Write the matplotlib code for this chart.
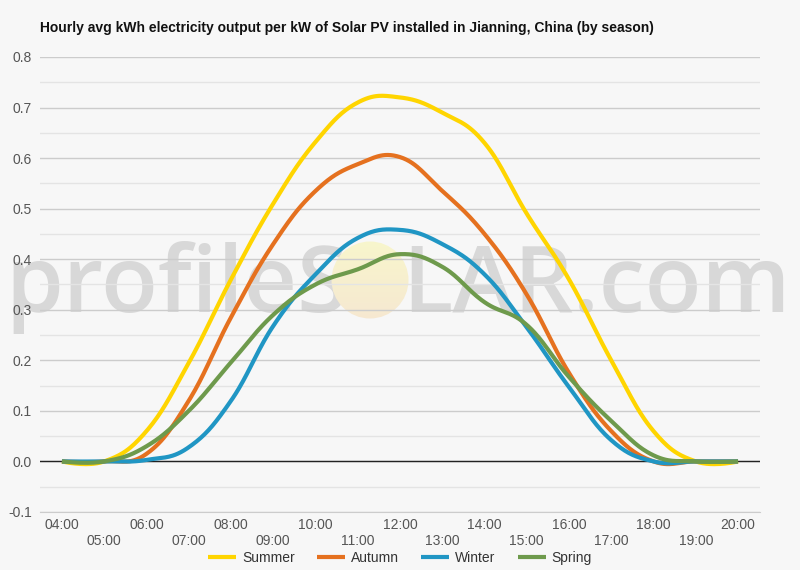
import matplotlib
matplotlib.use("Agg")
import matplotlib.pyplot as plt
import numpy as np
from matplotlib.patches import Circle
from matplotlib.ticker import MultipleLocator, FixedLocator

hours = list(range(4, 21))
hour_labels = [f"{h:02d}:00" for h in hours]

summer = [0.0, 0.0, 0.06, 0.195, 0.36, 0.51, 0.632, 0.71, 0.72, 0.69, 0.63, 0.49, 0.36, 0.2, 0.06, 0.0, 0.0]
autumn = [0.0, 0.0, 0.015, 0.12, 0.285, 0.43, 0.535, 0.588, 0.602, 0.535, 0.45, 0.33, 0.175, 0.06, 0.0, 0.0, 0.0]
winter = [0.0, 0.0, 0.003, 0.028, 0.12, 0.268, 0.37, 0.442, 0.458, 0.43, 0.37, 0.265, 0.147, 0.042, 0.0, 0.0, 0.0]
spring = [0.0, 0.0, 0.03, 0.10, 0.196, 0.29, 0.35, 0.38, 0.41, 0.385, 0.315, 0.27, 0.167, 0.08, 0.012, 0.0, 0.0]

series = [
    ("Summer", summer, "#ffd500"),
    ("Autumn", autumn, "#e5711f"),
    ("Winter", winter, "#2096c4"),
    ("Spring", spring, "#6e9a4c"),
]

BG = "#f7f7f7"


def spline(xs, ys, n=30, smoothing=1.5):
    """bezier spline through the points, control points like highcharts' spline."""
    xs = np.asarray(xs, float)
    ys = np.asarray(ys, float)
    denom = smoothing + 1
    m = len(xs)
    left = [(xs[i], ys[i]) for i in range(m)]
    right = [(xs[i], ys[i]) for i in range(m)]
    for i in range(1, m - 1):
        lx = (smoothing * xs[i] + xs[i - 1]) / denom
        ly = (smoothing * ys[i] + ys[i - 1]) / denom
        rx = (smoothing * xs[i] + xs[i + 1]) / denom
        ry = (smoothing * ys[i] + ys[i + 1]) / denom
        corr = (ry - ly) * (rx - xs[i]) / (rx - lx) + ys[i] - ry
        left[i] = (lx, ly + corr)
        right[i] = (rx, ry + corr)
    t = np.linspace(0, 1, n, endpoint=False)
    bx, by = [], []
    for i in range(m - 1):
        p0 = (xs[i], ys[i])
        p1 = right[i]
        p2 = left[i + 1]
        p3 = (xs[i + 1], ys[i + 1])
        for k, out in ((0, bx), (1, by)):
            out.extend((1 - t) ** 3 * p0[k] + 3 * (1 - t) ** 2 * t * p1[k]
                       + 3 * (1 - t) * t ** 2 * p2[k] + t ** 3 * p3[k])
    bx.append(xs[-1])
    by.append(ys[-1])
    return np.array(bx), np.array(by)


plt.rcParams["font.family"] = ["Liberation Sans", "DejaVu Sans"]

fig = plt.figure(figsize=(8, 5.7), dpi=100, facecolor=BG)
ax = fig.add_axes([0.05, 0.1018, 0.90, 0.7982], facecolor=BG)
ax.set_axisbelow(True)

ax.set_xlim(3.48, 20.52)
ax.set_ylim(-0.1, 0.8)

# grid
ax.yaxis.set_major_locator(MultipleLocator(0.1))
ax.yaxis.set_minor_locator(MultipleLocator(0.05))
ax.grid(True, axis="y", which="major", color="#cccccc", lw=1)
ax.grid(True, axis="y", which="minor", color="#e4e4e4", lw=1)
ax.axhline(0, color="#222222", lw=1, zorder=2)
for s in ax.spines.values():
    s.set_visible(False)
ax.spines["bottom"].set_visible(True)
ax.spines["bottom"].set_color("#cccccc")

ax.set_yticks(np.arange(-0.1, 0.81, 0.1))
ax.set_yticklabels([f"{v:.1f}" for v in np.arange(-0.1, 0.81, 0.1)])
ax.tick_params(axis="y", which="both", length=0, labelsize=10, labelcolor="#555555", pad=6)

# x ticks: even hours on first row, odd hours below
ax.xaxis.set_major_locator(FixedLocator(hours[::2]))
ax.xaxis.set_minor_locator(FixedLocator(hours[1::2]))
ax.set_xticklabels(hour_labels[::2])
ax.set_xticklabels(hour_labels[1::2], minor=True)
ax.tick_params(axis="x", which="major", length=0, labelsize=10, labelcolor="#555555", pad=4)
ax.tick_params(axis="x", which="minor", length=0, labelsize=10, labelcolor="#555555", pad=16)

# watermark (under the grid)
wm = dict(transform=fig.transFigure, fontsize=67, family=["Open Sans", "DejaVu Sans"],
          fontweight="semibold", color="#d8d8d8", va="baseline", zorder=0.2, clip_on=False)
ax.text(5 / 800, 1 - 312 / 570, "profileS", ha="left", **wm)
ax.text(402 / 800, 1 - 312 / 570, "LAR.com", ha="left", **wm)

# sun with a soft gradient
sun = Circle((3.70, (570 - 280) / 100), 0.385, transform=fig.dpi_scale_trans)
inv = ax.transData.inverted()
(x0, y0) = inv.transform((330, 570 - 320))
(x1, y1) = inv.transform((410, 570 - 240))
grad = np.linspace(0, 1, 64)[:, None]
c_top = np.array([0.972, 0.965, 0.80])
c_bot = np.array([0.965, 0.91, 0.82])
img = c_top * (1 - grad[..., None]) + c_bot * grad[..., None]
img = np.repeat(img, 4, axis=1)
im = ax.imshow(img, extent=(x0, x1, y0, y1), origin="upper", aspect="auto", zorder=0.3,
               interpolation="bilinear")
im.set_clip_path(sun)
ax.set_xlim(3.48, 20.52)
ax.set_ylim(-0.1, 0.8)

for name, vals, color in series:
    sx, sy = spline(hours, vals)
    ax.plot(sx, sy, color=color, lw=3.0, label=name, zorder=3, solid_capstyle="butt")

fig.text(40 / 800, 1 - 28 / 570,
         "Hourly avg kWh electricity output per kW of Solar PV installed in Jianning, China (by season)",
         fontsize=10, fontweight="bold", color="#111111", va="center", ha="left")

fig.legend(loc="center", bbox_to_anchor=(0.5, 1 - 558 / 570), ncol=4, frameon=False,
           fontsize=10, handlelength=2.0, columnspacing=1.6, handletextpad=0.45,
           labelcolor="#333333")

fig.savefig("out.png", dpi=100, facecolor=BG)
